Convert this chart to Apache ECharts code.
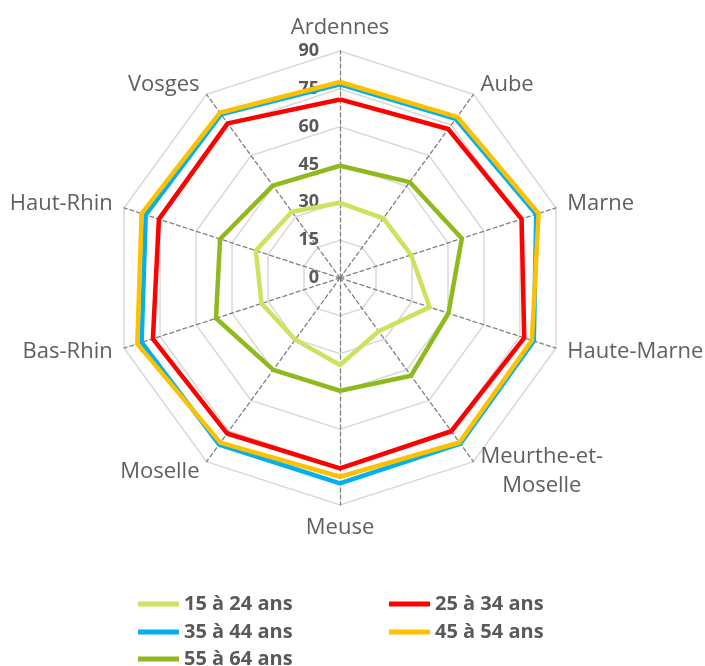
<!DOCTYPE html>
<html>
<head>
<meta charset="utf-8">
<script src="https://cdn.jsdelivr.net/npm/echarts@6/dist/echarts.min.js"></script>
<style>
    html, body {margin: 0; padding: 0; background: #fff;}
    #chart {width: 705px; height: 666px;}
</style>
</head>
<body>
<div id="chart"></div>
<script>
// départements, dans l'ordre des aiguilles d'une montre depuis le haut
let departements = ['Ardennes', 'Aube', 'Marne', 'Haute-Marne', 'Meurthe-et-\nMoselle',
    'Meuse', 'Moselle', 'Bas-Rhin', 'Haut-Rhin', 'Vosges'];
let classes = ['15 à 24 ans', '25 à 34 ans', '35 à 44 ans', '45 à 54 ans', '55 à 64 ans'];
let couleurs = ['#c9e55f', '#ff0000', '#00b0f0', '#ffc000', '#8fba1e'];

let v15_24 = [29.8, 29.2, 29.6, 37.4, 26.1, 34.5, 30.2, 32.7, 35.1, 32.5];
let v25_34 = [70.8, 73.0, 75.7, 76.8, 75.1, 75.5, 76.2, 78.0, 75.5, 75.8];
let v35_44 = [76.8, 78.0, 81.8, 80.8, 81.2, 81.4, 81.6, 82.7, 81.0, 80.2];
let v45_54 = [77.7, 79.0, 82.8, 80.0, 80.6, 78.8, 80.7, 84.5, 82.7, 81.0];
let v55_64 = [44.5, 47.0, 50.8, 45.2, 47.9, 44.7, 45.0, 51.7, 50.0, 45.3];
let valeurs = [v15_24, v25_34, v35_44, v45_54, v55_64];

let axeMax = 90;

// le radar echarts tourne dans le sens inverse : on retourne l'ordre
let ordre = [0, 9, 8, 7, 6, 5, 4, 3, 2, 1];
let gris = '#595959';
let police = '"Open Sans", sans-serif';

let indicateurs = ordre.map(function (i, k) {
    let ind = {name: departements[i], min: 0, max: axeMax};
    if (k === 0) {
        ind.axisLabel = {
            show: true, color: gris, fontSize: 18, fontWeight: 'bold',
            fontFamily: police, margin: 21
        };
    }
    return ind;
});

// légende sur deux colonnes : une légende par entrée
let colonnes = [138, 389];
let lignes = [594, 622, 649];
let legendes = classes.map(function (c, s) {
    return {
        data: [c],
        left: colonnes[s % 2], top: lignes[Math.floor(s / 2)], padding: 0,
        icon: 'rect', itemWidth: 41, itemHeight: 5, itemGap: 0,
        textStyle: {color: gris, fontSize: 20, fontWeight: 'bold', fontFamily: police}
    };
});

let chart = echarts.init(document.getElementById('chart'));
chart.setOption({
    animation: false,
    backgroundColor: '#fff',
    legend: legendes,
    radar: {
        center: [340, 278],
        radius: 227,
        startAngle: 90,
        shape: 'polygon',
        splitNumber: 6,
        indicator: indicateurs,
        nameGap: 12,
        axisName: {
            color: '#606060', fontSize: 22, fontFamily: police,
            formatter: function (name) {
                if (name.indexOf('\n') < 0) {
                    return name;
                }
                return name.split('\n').map(function (s) {
                    return '{c|' + s + '}';
                }).join('\n');
            },
            rich: {
                c: {align: 'center', color: '#606060', fontSize: 22, fontFamily: police, lineHeight: 29}
            }
        },
        axisLabel: {show: false},
        axisTick: {show: false},
        splitArea: {show: false},
        splitLine: {lineStyle: {color: '#d9d9d9', width: 1.5}},
        axisLine: {lineStyle: {color: '#808080', width: 1.3, type: [4, 3]}}
    },
    series: [{
        type: 'radar',
        symbol: 'none',
        data: classes.map(function (c, s) {
            return {
                name: c,
                value: ordre.map(function (i) {
                    return valeurs[s][i];
                }),
                lineStyle: {color: couleurs[s], width: 4.5},
                itemStyle: {color: couleurs[s]}
            };
        })
    }]
});
</script>
</body>
</html>
